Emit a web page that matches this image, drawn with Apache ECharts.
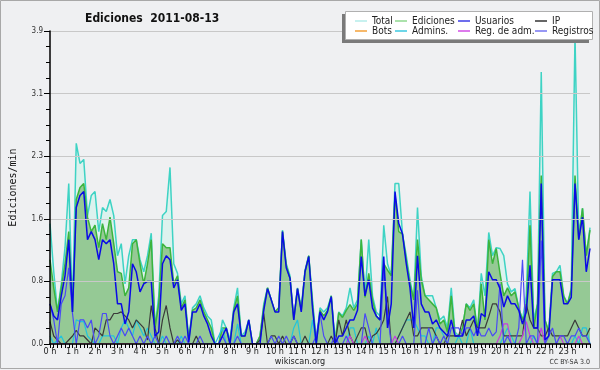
<!DOCTYPE html>
<html><head><meta charset="utf-8">
<script src="https://cdn.jsdelivr.net/npm/echarts/dist/echarts.min.js"></script>
<style>html,body{margin:0;padding:0;background:#eff0f2}#c{width:600px;height:370px}</style>
</head><body><div id="c"></div>
<script>
// x axis: 10-minute steps, 0..144 (0 h .. 24 h)
const hourLabels = ['0 h','1 h','2 h','3 h','4 h','5 h','6 h','7 h','8 h','9 h','10 h','11 h','12 h','13 h','14 h','15 h','16 h','17 h','18 h','19 h','20 h','21 h','22 h','23 h'];
const yTickLabels = ['0.0','0.8','1.6','2.3','3.1','3.9'];
const seriesNames = ['Total','Ediciones','Usuarios','IP','Bots','Admins.','Reg. de adm.','Registros'];

const total = [
1.5,0.9,0.4,0.75,1.2,2.0, 0.45,2.5,2.25,2.3,1.6,1.85, 1.9,1.4,1.7,1.65,1.8,1.6, 1.1,1.25,0.75,1.1,1.3,1.3,
1.05,0.9,1.1,1.38,0.2,0.6, 1.6,1.65,2.2,1.0,0.88,0.5, 0.6,0.05,0.45,0.5,0.6,0.45, 0.35,0.3,0,0,0.3,0.2,
0.05,0.45,0.7,0.1,0.15,0.3, 0,0,0.1,0.5,0.7,0.55, 0.4,0.45,1.42,1.0,0.85,0.3, 0.7,0.45,0.92,1.1,0.55,0.05,
0.45,0.4,0.45,0.6,0.05,0.4, 0.35,0.45,0.7,0.45,0.55,1.3, 0.6,1.3,0.6,0.4,0.35,1.48, 1.0,0.85,2.0,2.0,1.37,1.1,
0.8,0.55,1.7,0.85,0.6,0.6, 0.6,0.45,0.3,0.35,0.2,0.7, 0.15,0.1,0.2,0.5,0.45,0.55, 0.15,0.88,0.6,1.39,1.1,1.2,
1.19,1.1,0.75,0.65,0.69,0.45, 0.3,0.6,1.9,0.3,0.5,3.39, 0.3,0.15,0.88,0.9,0.98,0.6, 0.5,0.7,3.85,1.35,1.69,1.1,1.45];
const ediciones = [
1.05,0.7,0.4,0.7,1.0,1.4, 0.4,1.8,1.95,2.0,1.58,1.4, 1.48,1.2,1.5,1.3,1.58,1.25, 0.9,0.88,0.6,0.7,1.25,1.3,
1.0,0.75,1.0,1.3,0.2,0.5, 1.25,1.2,1.2,0.75,0.85,0.45, 0.55,0.05,0.42,0.45,0.55,0.4, 0.3,0.2,0,0,0.2,0.2,
0,0.42,0.6,0.1,0.1,0.3, 0,0,0.1,0.46,0.7,0.55, 0.4,0.45,1.4,0.98,0.82,0.3, 0.69,0.42,0.9,1.1,0.5,0,
0.42,0.35,0.42,0.6,0,0.39, 0.33,0.42,0.49,0.42,0.5,1.3, 0.58,0.88,0.55,0.35,0.3,1.0, 0.92,0.85,1.85,1.4,1.37,1.05,
0.75,0.55,1.3,0.8,0.6,0.55, 0.5,0.45,0.25,0.3,0.15,0.6, 0.1,0.1,0.2,0.5,0.42,0.5, 0.15,0.75,0.3,1.3,1.0,1.19,
0.88,0.6,0.7,0.6,0.65,0.45, 0.3,0.4,1.48,0.2,0.5,2.1, 0.3,0.15,0.84,0.9,0.9,0.59, 0.5,0.67,2.1,1.3,1.69,1.1,1.42];
const usuarios = [
0.5,0.35,0.3,0.6,0.85,1.3, 0.4,1.7,1.85,1.9,1.3,1.4, 1.3,1.05,1.3,1.25,1.3,1.0, 0.5,0.5,0.25,0.4,1.0,0.9,
0.65,0.75,0.78,0.78,0.1,0.15, 1.0,1.1,1.05,0.7,0.8,0.42, 0.5,0.02,0.4,0.4,0.5,0.35, 0.25,0.1,0,0,0.1,0.2,
0,0.4,0.5,0.1,0.1,0.3, 0,0,0,0.42,0.69,0.55, 0.4,0.4,1.4,0.95,0.82,0.3, 0.69,0.4,0.9,1.09,0.45,0,
0.4,0.3,0.4,0.59,0,0.1, 0.1,0.2,0.3,0.3,0.42,1.09, 0.6,0.8,0.45,0.35,0.3,1.09, 0.2,0.5,1.9,1.5,1.37,1.0,
0.7,0.2,1.1,0.5,0.4,0.4, 0.25,0.3,0.2,0.15,0.1,0.3, 0.1,0.1,0.1,0.3,0.3,0.35, 0.1,0.38,0.34,0.9,0.8,0.8,
0.69,0.46,0.6,0.5,0.5,0.42, 0.25,0.4,0.98,0.2,0.2,2.0, 0.05,0.1,0.8,0.8,0.8,0.5, 0.5,0.58,2.0,1.3,1.58,0.9,1.19];
const ip = [
0.28,0.1,0.05,0,0,0.05, 0.1,0.17,0.1,0.1,0.05,0, 0.2,0.15,0.1,0.3,0.3,0.38, 0.38,0.4,0.35,0.3,0.2,0.3,
0.25,0.2,0.05,0.48,0.2,0, 0.3,0.48,0.2,0,0.05,0, 0,0,0,0.1,0,0, 0,0,0,0,0,0,
0,0,0,0,0,0, 0,0,0.05,0.38,0,0.1, 0.1,0,0.1,0,0,0.1, 0,0,0.1,0,0,0,
0,0,0,0.1,0,0.3, 0.1,0.3,0.1,0,0.1,0.2, 0.2,0,0.1,0.13,0.2,0.3, 0.59,0,0,0.1,0.2,0.3,
0.4,0.1,0.1,0.2,0.2,0.2, 0.2,0.1,0,0,0.1,0.1, 0.1,0.1,0.3,0.1,0.2,0.3, 0.2,0.2,0.2,0.34,0.5,0.5,
0.4,0.1,0.1,0.1,0.1,0.1, 0.1,0.5,0.3,0.2,0.2,0.1, 0.1,0.2,0.1,0.1,0.1,0.1, 0.1,0.2,0.3,0.2,0.1,0.1,0.2];
const bots = [
0,0,0,0,0,0, 0,0,0,0,0,0, 0,0,0,0,0,0, 0,0,0,0,0,0,
0,0,0,0,0,0, 0,0,0,0,0,0, 0,0,0,0,0,0, 0,0,0,0,0,0,
0,0,0,0,0,0, 0,0,0,0,0,0, 0,0,0,0,0,0, 0,0,0,0,0,0,
0,0,0,0,0,0, 0,0,0,0,0,0, 0,0,0,0,0,0, 0,0,0,0,0,0,
0,0,0,0,0,0, 0,0,0,0,0,0, 0,0,0,0,0,0, 0,0,0,0,0,0,
0,0,0,0,0,0, 0,0,0,0,0,0, 0,0,0,0,0,0, 0,0,0,0,0,0,0];
const admins = [
0.1,0,0.05,0.1,0,0, 0,0.3,0.28,0.28,0.1,0.05, 0,0,0.1,0.1,0.1,0.1, 0,0.2,0.3,0.2,0.1,0.3,
0.2,0.1,0.2,0.1,0,0, 0.1,0,0,0,0,0.1, 0,0,0,0,0,0, 0,0,0,0.1,0.2,0,
0,0,0.25,0,0,0, 0,0,0,0,0,0, 0,0,0,0,0,0.2, 0.3,0,0,0,0.3,0,
0,0,0,0,0,0, 0,0,0.2,0.2,0,0, 0,0.1,0,0.2,0,0, 0,0,0,0.1,0.2,0.3,
0.3,0.3,0.2,0.1,0.1,0, 0,0.2,0.2,0.1,0,0, 0,0.1,0,0,0.2,0, 0,0,0,0,0,0,
0,0.1,0.2,0.1,0,0, 0,0,0,0.1,0,0, 0,0,0,0,0,0, 0,0,0.1,0,0.2,0.2,0];
const regAdm = [
0,0,0,0,0,0, 0,0,0,0,0,0, 0,0,0,0,0,0, 0,0,0,0,0,0,
0,0,0,0,0,0, 0,0,0,0,0,0, 0,0,0,0,0,0, 0,0,0,0,0,0,
0,0,0,0,0,0, 0,0,0,0,0,0, 0,0,0,0,0,0, 0,0,0,0,0,0,
0,0,0,0,0,0, 0,0,0.1,0,0,0, 0.1,0,0,0,0,0, 0,0,0.1,0,0,0,
0,0,0,0,0,0, 0,0,0,0,0,0, 0,0,0,0,0,0, 0,0,0,0,0,0,
0.1,0.25,0.25,0,0,0, 0.1,0.28,0.1,0,0,0.2, 0,0,0,0,0.1,0, 0,0,0,0.1,0,0,0];
const registros = [
0.5,0.3,0,0.5,0.6,0.95, 0.38,0,0.3,0.3,0.2,0.3, 0,0.1,0.38,0.38,0.1,0, 0.1,0.2,0.1,0.2,0.1,0,
0.1,0,0.1,0,0.1,0, 0,0.1,0,0,0.1,0, 0.1,0,0,0,0.1,0, 0,0,0,0,0.1,0,
0,0,0.1,0,0,0, 0,0,0,0,0,0.1, 0,0.1,0,0.1,0,0.1, 0,0,0,0,0,0.1,
0.38,0.1,0,0,0.1,0, 0,0.1,0,0,0,0, 0.38,0.2,0,0,0,0.95, 0.38,0,0,0,0.1,0,
0,0,0.67,0,0,0.2, 0,0.1,0,0.1,0,0.2, 0.2,0.2,0.1,0.2,0.2,0.1, 0.2,0.1,0.1,0.2,0.1,0.15,
0.75,0,0.1,0,0,0.2, 1.05,0,0.1,0.1,0,1.29, 0,0.1,0.2,0,0.1,0.1, 0,0.1,0.1,0.2,0.1,0.1,0];

const pts = a => a.map((v, i) => [i, v]);
const FONT = 'DejaVu Sans Condensed';
const chart = echarts.init(document.getElementById('c'), null, {renderer: 'canvas'});

function line(name, arr, color, width, extra) {
  return Object.assign({
    name: name, type: 'line', data: pts(arr), symbol: 'none', animation: false,
    lineStyle: {color: color, width: width}, itemStyle: {color: color}
  }, extra || {});
}

const legendCommon = {
  orient: 'vertical', itemGap: 0, itemWidth: 12, itemHeight: 1.5, icon: 'rect', z: 12,
  textStyle: {fontFamily: FONT, fontSize: 10, color: '#222', lineHeight: 10, padding: [0,0,0,0]},
  selectedMode: false
};
function leg(left, items) {
  return Object.assign({}, legendCommon, {left: left, top: 11,
    data: items.map(it => ({name: it[0], itemStyle: {color: it[1]}}))});
}

chart.setOption({
  backgroundColor: '#eff0f2',
  animation: false,
  title: {text: 'Ediciones  2011-08-13', left: 80, top: 8,
    textStyle: {fontFamily: FONT, fontSize: 12, fontWeight: 'bold', color: '#111'}},
  grid: {left: 46, right: 10, top: 31, bottom: 26},
  xAxis: {type: 'value', min: 0, max: 144, interval: 6, z: 5,
    axisLine: {lineStyle: {color: '#000', width: 1.5}},
    axisTick: {length: 4, lineStyle: {color: '#000'}},
    minorTick: {show: true, splitNumber: 6, length: 4, lineStyle: {color: '#000'}},
    splitLine: {show: false},
    axisLabel: {showMaxLabel: false, margin: 3, fontFamily: FONT, fontSize: 9, color: '#222',
      formatter: v => hourLabels[Math.round(v / 6)] || ''}},
  yAxis: {type: 'value', min: 0, max: 3.9, interval: 0.78, z: 5,
    name: 'Ediciones/min', nameLocation: 'middle', nameGap: 32, nameRotate: 90,
    nameTextStyle: {fontFamily: 'DejaVu Sans Mono', fontSize: 10, color: '#111'},
    axisLine: {show: true, lineStyle: {color: '#000', width: 1.5}},
    axisTick: {show: true, length: 6, lineStyle: {color: '#000'}},
    minorTick: {show: true, splitNumber: 4, length: 4, lineStyle: {color: '#000'}},
    splitLine: {show: true, lineStyle: {color: '#c8c8c8', width: 1}},
    axisLabel: {margin: 7, fontFamily: FONT, fontSize: 8, color: '#333',
      formatter: v => yTickLabels[Math.round(v / 0.78)]}},
  legend: [
    leg(350, [['Total', '#b5ecea'], ['Bots', '#f5a23a']]),
    leg(390, [['Ediciones', '#8fd88f'], ['Admins.', '#3cc8e0']]),
    leg(453, [['Usuarios', '#3c3ce6'], ['Reg. de adm.', '#d24ee6']]),
    leg(530, [['IP', '#333333'], ['Registros', '#7474f0']])
  ],
  graphic: [
    {type: 'rect', z: 10, shape: {x: 342, y: 14, width: 247, height: 29}, style: {fill: '#7a7a7a'}},
    {type: 'rect', z: 10, shape: {x: 345.5, y: 11.5, width: 247, height: 28}, style: {fill: '#ffffff', stroke: '#b0b0b0', lineWidth: 1}},
    {type: 'rect', z: 0, silent: true, shape: {x: 0.5, y: 0.5, width: 599, height: 368}, style: {fill: 'none', stroke: '#a8a8a8', lineWidth: 1}},
    {type: 'text', z: 10, style: {text: 'wikiscan.org', x: 300, y: 362, textAlign: 'center', textVerticalAlign: 'middle', font: '9px "DejaVu Sans Condensed"', fill: '#222'}},
    {type: 'text', z: 10, style: {text: 'CC BY-SA 3.0', x: 590, y: 362, textAlign: 'right', textVerticalAlign: 'middle', font: '7px "DejaVu Sans Condensed"', fill: '#333'}}
  ],
  series: [
    line('Total', total, '#3ed3c4', 1.5, {areaStyle: {color: '#dcf2ee', opacity: 1}, z: 1}),
    line('Ediciones', ediciones, '#3cb43c', 1.5, {areaStyle: {color: '#95c995', opacity: 1}, z: 2}),
    line('Bots', bots, '#f5a23a', 1, {z: 3}),
    line('Admins.', admins, '#22c4dc', 1.2, {z: 3}),
    line('IP', ip, '#3a3a3a', 1.2, {z: 3}),
    line('Reg. de adm.', regAdm, '#c83ee0', 1.2, {z: 3}),
    line('Registros', registros, '#4a4af5', 1.2, {z: 3}),
    line('Usuarios', usuarios, '#0a0ae6', 1.5, {z: 4})
  ]
});
</script></body></html>
